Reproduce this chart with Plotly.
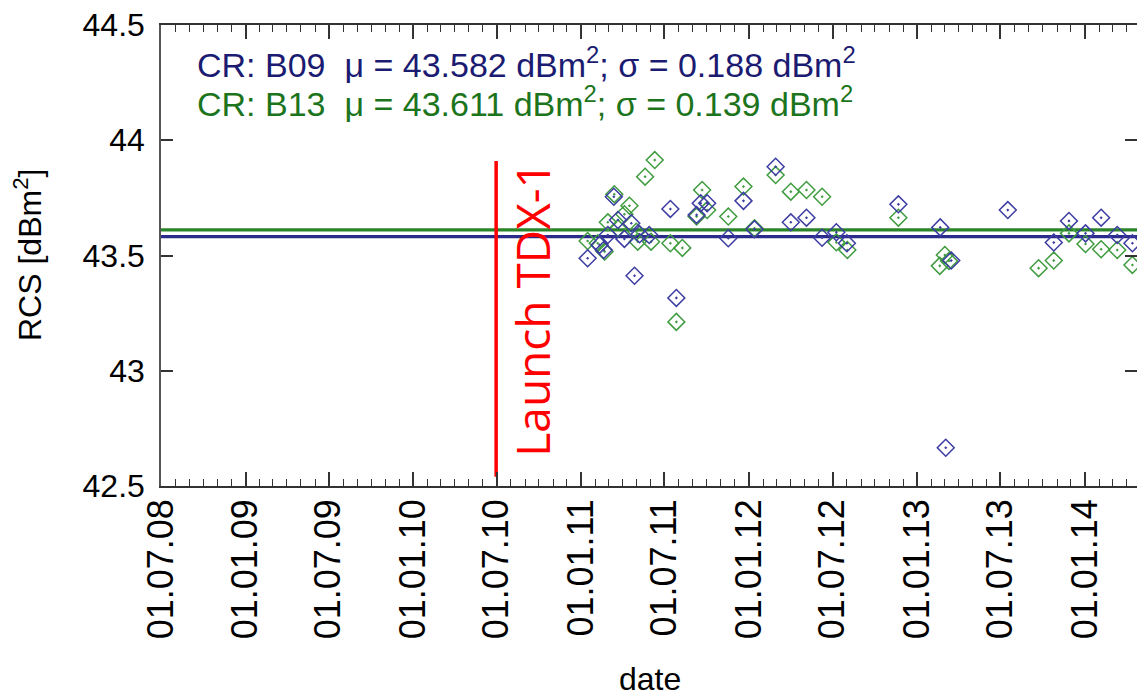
import plotly.graph_objects as go

# ---- data ----
b09_dates = ["2011-01-15", "2011-02-10", "2011-02-19", "2011-02-28", "2011-03-13", "2011-03-22",
             "2011-04-05", "2011-04-20", "2011-04-27", "2011-05-08", "2011-05-29", "2011-07-14",
             "2011-07-27", "2011-09-09", "2011-09-18", "2011-10-02", "2011-11-17", "2011-12-20",
             "2012-01-13", "2012-02-28", "2012-04-01", "2012-05-05", "2012-06-08", "2012-07-09",
             "2012-08-01", "2012-11-21", "2013-02-20", "2013-03-04", "2013-03-16", "2013-07-17",
             "2013-10-25", "2013-11-27", "2014-01-02", "2014-02-05", "2014-03-12", "2014-04-14"]
b09_rcs = [43.488, 43.546, 43.524, 43.589, 43.755, 43.654,
           43.572, 43.640, 43.412, 43.592, 43.589, 43.702,
           43.316, 43.676, 43.727, 43.727, 43.575, 43.737,
           43.614, 43.885, 43.644, 43.664, 43.577, 43.601,
           43.553, 43.722, 43.622, 42.666, 43.478, 43.697,
           43.556, 43.650, 43.596, 43.664, 43.589, 43.553]

b13_dates = ["2011-01-15", "2011-02-06", "2011-02-21", "2011-02-28", "2011-03-14", "2011-03-22",
             "2011-04-05", "2011-04-16", "2011-05-01", "2011-05-04", "2011-05-20", "2011-06-02",
             "2011-06-10", "2011-07-14", "2011-07-27", "2011-08-09", "2011-09-09", "2011-09-21",
             "2011-10-02", "2011-11-17", "2011-12-20", "2012-01-13", "2012-02-28", "2012-04-01",
             "2012-05-05", "2012-06-08", "2012-07-09", "2012-08-02", "2012-11-21", "2013-02-19",
             "2013-03-02", "2013-03-11", "2013-09-22", "2013-10-25", "2013-11-27", "2014-01-02",
             "2014-02-05", "2014-03-12", "2014-04-14"]
b13_rcs = [43.563, 43.553, 43.517, 43.644, 43.766, 43.618,
           43.679, 43.716, 43.603, 43.560, 43.842, 43.560,
           43.914, 43.553, 43.212, 43.533, 43.669, 43.784,
           43.697, 43.669, 43.799, 43.618, 43.849, 43.777,
           43.784, 43.755, 43.557, 43.524, 43.664, 43.455,
           43.502, 43.476, 43.445, 43.478, 43.596, 43.550,
           43.527, 43.524, 43.459]

b09_mean, b09_std = 43.582, 0.188
b13_mean, b13_std = 43.611, 0.139

launch_date = "2010-06-30"
launch_rcs = [42.54, 43.91]

x_range = ["2008-07-01", "2014-04-24"]
y_range = [42.5, 44.5]
y_ticks = [42.5, 43, 43.5, 44, 44.5]
y_ticklabels = ["42.5", "43", "43.5", "44", "44.5"]

# ---- styling ----
FONT = "Liberation Sans, Arial, sans-serif"
BLUE_M = "#3c3ca2"
GREEN_M = "#3f9c3f"
BLUE_L = "#2b2b8c"
GREEN_L = "#2a852a"
BLUE_T = "#1b1b72"
GREEN_T = "#1c741c"

fig = go.Figure()

# mean lines
fig.add_trace(go.Scatter(x=x_range, y=[b13_mean, b13_mean], mode="lines",
                         line=dict(color=GREEN_L, width=3.2), showlegend=False, hoverinfo="skip"))
fig.add_trace(go.Scatter(x=x_range, y=[b09_mean, b09_mean], mode="lines",
                         line=dict(color=BLUE_L, width=3.2), showlegend=False, hoverinfo="skip"))

fig.add_trace(go.Scatter(x=b13_dates, y=b13_rcs, mode="markers",
                         marker=dict(symbol="diamond-open-dot", size=13, color=GREEN_M,
                                     line=dict(width=1.5, color=GREEN_M)),
                         showlegend=False))
fig.add_trace(go.Scatter(x=b09_dates, y=b09_rcs, mode="markers",
                         marker=dict(symbol="diamond-open-dot", size=13, color=BLUE_M,
                                     line=dict(width=1.5, color=BLUE_M)),
                         showlegend=False))

# launch line
fig.add_trace(go.Scatter(x=[launch_date, launch_date], y=launch_rcs, mode="lines",
                         line=dict(color="#ff0000", width=3.5), showlegend=False, hoverinfo="skip"))

fig.add_annotation(x="2010-09-16", y=43.265, xref="x", yref="y", text="Launch TDX-1",
                   textangle=-90, showarrow=False, xanchor="center", yanchor="middle",
                   font=dict(family="Open Sans, Liberation Sans, sans-serif", size=46, color="#ff0000"))

fig.add_annotation(x=0.0348, y=0.9176, xref="paper", yref="paper", xanchor="left", yanchor="middle",
                   text=f"CR: B09&nbsp;&nbsp;μ = {b09_mean:.3f} dBm<sup>2</sup>; σ = {b09_std:.3f} dBm<sup>2</sup>",
                   showarrow=False, font=dict(family=FONT, size=34, color=BLUE_T))
fig.add_annotation(x=0.0348, y=0.833, xref="paper", yref="paper", xanchor="left", yanchor="middle",
                   text=f"CR: B13&nbsp;&nbsp;μ = {b13_mean:.3f} dBm<sup>2</sup>; σ = {b13_std:.3f} dBm<sup>2</sup>",
                   showarrow=False, font=dict(family=FONT, size=34, color=GREEN_T))

# axis titles
fig.add_annotation(x=-0.1363, y=0.501, xref="paper", yref="paper", text="RCS [dBm<sup>2</sup>]",
                   textangle=-90, showarrow=False, xanchor="center", yanchor="middle",
                   font=dict(family=FONT, size=32, color="#000000"))
fig.add_annotation(x=0.501, y=-0.4187, xref="paper", yref="paper", text="date",
                   showarrow=False, xanchor="center", yanchor="middle",
                   font=dict(family=FONT, size=32, color="#000000"))

fig.update_xaxes(type="date", range=x_range, tick0="2008-07-01", dtick="M6", tickformat="%d.%m.%y",
                 tickangle=-90, ticks="inside", ticklen=14, tickwidth=1.5, tickcolor="#333333",
                 minor=dict(dtick="M1", ticks="inside", ticklen=7, tickwidth=1.2, tickcolor="#333333"),
                 showline=True, linecolor="#333333", linewidth=1.5, mirror="allticks",
                 showgrid=False, zeroline=False, ticklabelstandoff=-3,
                 tickfont=dict(family=FONT, size=36, color="#000000"))
fig.update_yaxes(range=y_range, tickvals=y_ticks, ticktext=y_ticklabels,
                 ticks="inside", ticklen=12, tickwidth=1.5, tickcolor="#333333",
                 showline=True, linecolor="#555555", linewidth=1.5, mirror="allticks",
                 showgrid=False, zeroline=False, ticklabelstandoff=8,
                 tickfont=dict(family=FONT, size=32, color="#000000"))

fig.update_layout(width=1137, height=696, margin=dict(l=161, r=0, t=25, b=210, autoexpand=False),
                  paper_bgcolor="white", plot_bgcolor="white", showlegend=False)

fig.write_html("out.html", config={"displayModeBar": False},
               post_script="document.body.style.margin='0';document.body.style.overflow='hidden';")
